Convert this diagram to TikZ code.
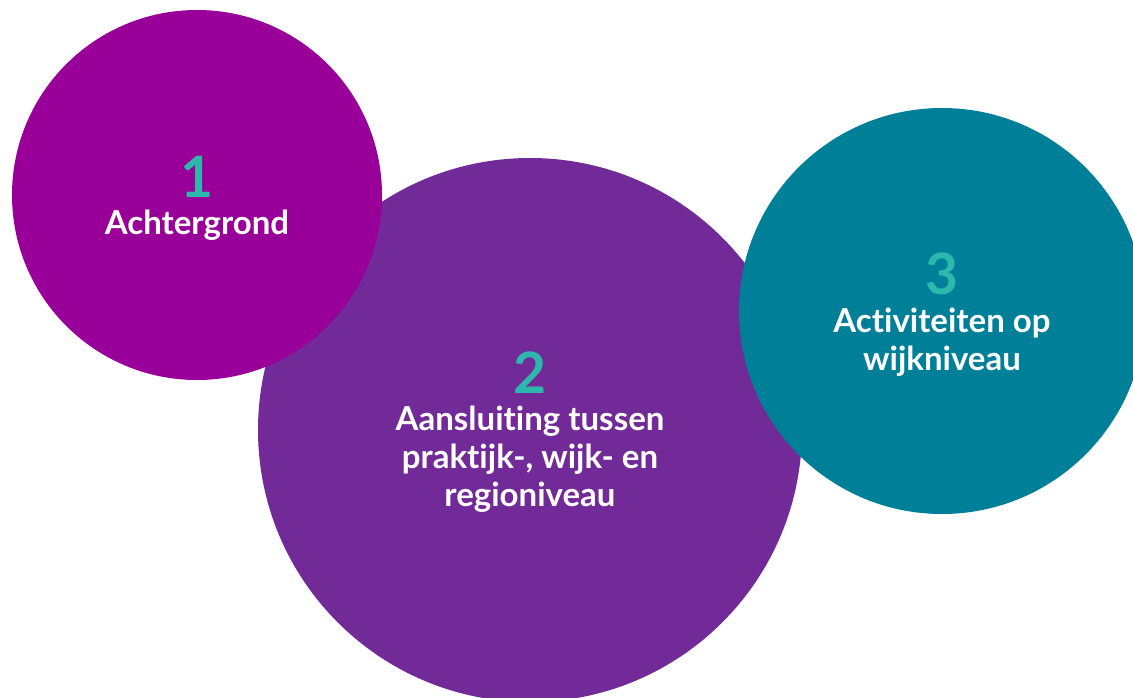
\documentclass[tikz,border=0pt]{standalone}
\usepackage{fontspec}
\setmainfont{Lato}[Ligatures=NoCommon]
\definecolor{cOne}{HTML}{990099}
\definecolor{cTwo}{HTML}{722A99}
\definecolor{cThree}{HTML}{007F99}
\definecolor{cNum}{HTML}{2DB8AE}
\tikzset{
  disc/.style={circle, inner sep=0pt, draw=none},
  numlabel/.style={anchor=base, text=cNum, font=\fontsize{57}{60}\selectfont\bfseries, inner sep=0pt},
  txtlabel/.style={anchor=base, text=white, align=center, font=\fontsize{33}{38}\selectfont\bfseries, inner sep=0pt},
}
\begin{document}
\begin{tikzpicture}[x=1pt,y=-1pt]
\useasboundingbox (0,0) rectangle (1133,697);
\clip (0,0) rectangle (1133,697);
\node[disc, fill=cTwo, minimum size=544pt] (c2) at (530,430) {};
\node[disc, fill=cOne, minimum size=370pt] (c1) at (197,195) {};
\node[disc, fill=cThree, minimum size=406pt] (c3) at (942,311) {};
\node[numlabel] (n1) at (197,197) {1};
\node[txtlabel] (t1) at (197,234) {Achtergrond};
\node[numlabel] (n2) at (530,393) {2};
\node[txtlabel] (t2) at (530,506) {Aansluiting tussen\\praktijk-, wijk- en\\regioniveau};
\node[numlabel] (n3) at (942,294) {3};
\node[txtlabel] (t3) at (942,370) {Activiteiten op\\wijkniveau};
\end{tikzpicture}
\end{document}
